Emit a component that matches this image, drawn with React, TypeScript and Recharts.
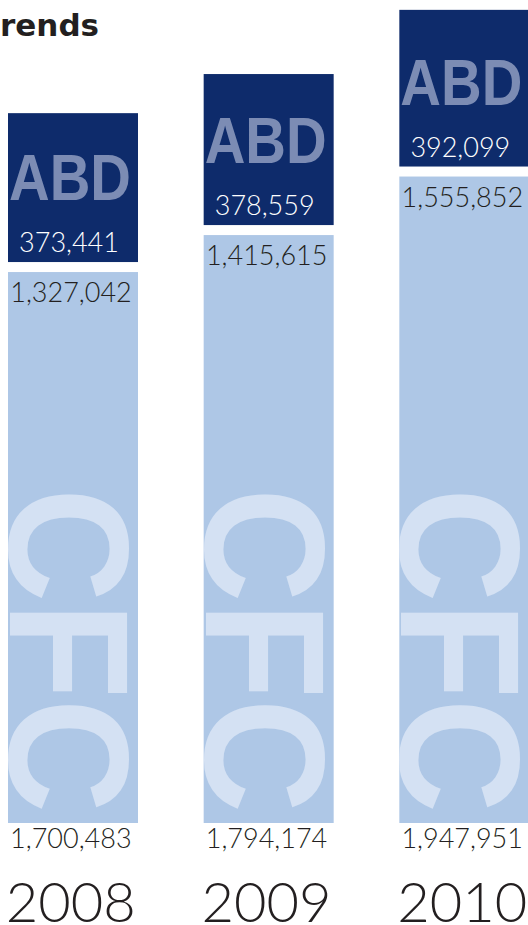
import React from "react";
import { BarChart, Bar, XAxis, YAxis } from "recharts";

// values
const YEARS = ["2008", "2009", "2010"];
const CFC_VALUES = [1327042, 1415615, 1555852];
const ABD_VALUES = [373441, 378559, 392099];
const TOTALS = [1700483, 1794174, 1947951];

const NAVY = "#0e2b6b";
const ABD_TEXT = "#7c8cb4";
const CFC_FILL = "#aec7e6";
const CFC_TEXT = "#d4e1f3";
const DARK = "#231f20";

const NUM_FONT = "Lato, 'Noto Sans', sans-serif";
const BOLD_FONT = "'Liberation Sans', Arial, sans-serif";

const fmt = (v: number) => v.toLocaleString("en-US");

const chartData = YEARS.map((year, i) => ({
  year,
  cfc: CFC_VALUES[i],
  abd: ABD_VALUES[i],
  total: TOTALS[i],
}));

const CfcShape = (props: any) => {
  const { x, y, width, height, index } = props;
  const top = y + 3;
  const bottom = y + height;
  return (
    <g>
      <rect x={x} y={top} width={width} height={bottom - top} fill={CFC_FILL} />
      <text
        transform={`translate(${x + 2}, ${bottom - 335}) rotate(90)`}
        fontFamily={BOLD_FONT}
        fontWeight={700}
        fontSize={170}
        fill={CFC_TEXT}
        textLength={325}
        lengthAdjust="spacingAndGlyphs"
      >
        CFC
      </text>
      <text
        x={x + width / 2 - 2}
        y={top + 30}
        textAnchor="middle"
        fontFamily={NUM_FONT}
        fontWeight={300}
        fontSize={27}
        fill={DARK}
      >
        {fmt(CFC_VALUES[index])}
      </text>
    </g>
  );
};

const AbdShape = (props: any) => {
  const { x, y, width, height, index } = props;
  const bottom = y + height - 7;
  return (
    <g>
      <rect x={x} y={y} width={width} height={bottom - y} fill={NAVY} />
      <text
        x={x + width / 2 - 3}
        y={bottom - 62}
        textAnchor="middle"
        fontFamily={BOLD_FONT}
        fontWeight={700}
        fontSize={64}
        fill={ABD_TEXT}
        textLength={122}
        lengthAdjust="spacingAndGlyphs"
      >
        ABD
      </text>
      <text
        x={x + width / 2 - 4}
        y={bottom - 10}
        textAnchor="middle"
        fontFamily={NUM_FONT}
        fontWeight={300}
        fontSize={27}
        fill="#ffffff"
      >
        {fmt(ABD_VALUES[index])}
      </text>
    </g>
  );
};

const YearTick = (props: any) => {
  const { x, y, index, payload } = props;
  return (
    <g>
      <text x={x - 2} y={y + 25} textAnchor="middle" fontFamily={NUM_FONT} fontWeight={300} fontSize={27} fill={DARK}>
        {fmt(TOTALS[index])}
      </text>
      <text x={x - 2} y={y + 99} textAnchor="middle" fontFamily={NUM_FONT} fontWeight={300} fontSize={56} fill={DARK}>
        {payload.value}
      </text>
    </g>
  );
};

export default function App() {
  return (
    <div style={{ position: "absolute", left: 0, top: 0, width: 528, height: 925, overflow: "hidden", background: "#fff" }}>
      <svg width={528} height={60} style={{ position: "absolute", left: 0, top: 0 }}>
        <text x={0} y={36} fontFamily="'DejaVu Sans', sans-serif" fontWeight={700} fontSize={31} fill={DARK}>
          rends
        </text>
      </svg>
      <div style={{ position: "absolute", left: -25, top: 0 }}>
        <BarChart width={587} height={925} data={chartData} margin={{ top: 9, right: 0, left: 0, bottom: 0 }}>
          <XAxis
            dataKey="year"
            height={102}
            axisLine={false}
            tickLine={false}
            tickSize={0}
            tickMargin={0}
            interval={0}
            tick={<YearTick />}
          />
          <YAxis hide domain={[0, 1950000]} />
          <Bar dataKey="cfc" stackId="a" barSize={130} shape={<CfcShape />} isAnimationActive={false} />
          <Bar dataKey="abd" stackId="a" barSize={130} shape={<AbdShape />} isAnimationActive={false} />
        </BarChart>
      </div>
    </div>
  );
}
